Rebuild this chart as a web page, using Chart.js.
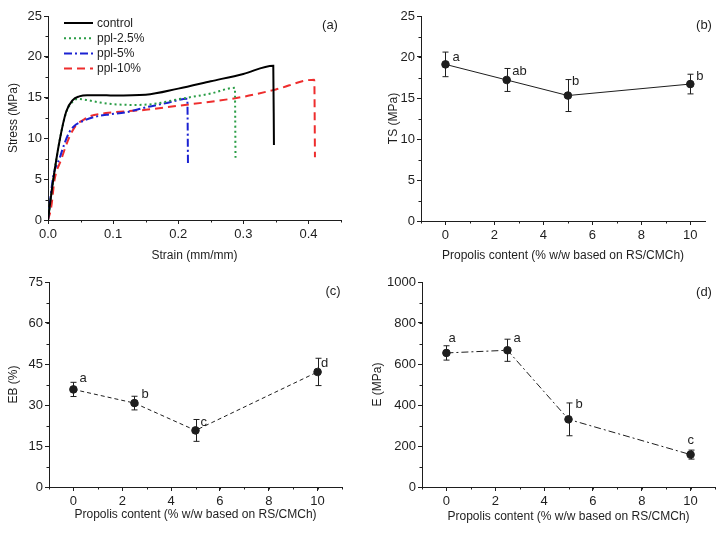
<!DOCTYPE html>
<html>
<head>
<meta charset="utf-8">
<script src="https://cdn.jsdelivr.net/npm/chart.js@4.4.1/dist/chart.umd.min.js"></script>
<style>
    body { margin: 0; background: #fff; }
    #wrap { position: relative; width: 725px; height: 534px; }
    canvas { position: absolute; }
</style>
</head>
<body>
<div id="wrap">
    <canvas id="chart-a" width="362" height="267" style="left:0;top:0"></canvas>
    <canvas id="chart-b" width="363" height="267" style="left:362px;top:0"></canvas>
    <canvas id="chart-c" width="362" height="267" style="left:0;top:267px"></canvas>
    <canvas id="chart-d" width="363" height="267" style="left:362px;top:267px"></canvas>
</div>
<script>
// ===========================================
// DATA
// ===========================================
// (a) stress-strain curves
const strainControl = [0, 0.008, 0.018, 0.028, 0.038, 0.048, 0.06, 0.08, 0.1, 0.15, 0.2, 0.25, 0.3, 0.346, 0.347];
const stressControl = [0, 4.9, 9.8, 13.3, 14.7, 15.15, 15.3, 15.3, 15.25, 15.35, 16.1, 17.0, 17.9, 18.9, 9.2];
const strainPpl25 = [0, 0.008, 0.018, 0.028, 0.038, 0.046, 0.06, 0.08, 0.1, 0.13, 0.16, 0.2, 0.25, 0.287, 0.288];
const stressPpl25 = [0, 4.9, 9.8, 13.2, 14.5, 14.85, 14.7, 14.4, 14.2, 14.1, 14.2, 14.8, 15.5, 16.2, 7.5];
const strainPpl5 = [0, 0.008, 0.018, 0.025, 0.033, 0.04, 0.05, 0.07, 0.09, 0.12, 0.15, 0.18, 0.214, 0.215];
const stressPpl5 = [0, 5.3, 7.6, 9.3, 10.8, 11.5, 12.0, 12.6, 12.9, 13.2, 13.8, 14.3, 14.85, 6.7];
const strainPpl10 = [0, 0.005, 0.01, 0.02, 0.033, 0.043, 0.055, 0.064, 0.089, 0.15, 0.2, 0.25, 0.3, 0.35, 0.409, 0.41];
const stressPpl10 = [0, 1.6, 4.9, 7.35, 10.2, 11.6, 12.3, 12.7, 13.1, 13.5, 14.0, 14.5, 15.1, 16.0, 17.2, 7.7];
const strainTicks = [0, 0.1, 0.2, 0.3, 0.4];
const stressTicks = [0, 5, 10, 15, 20, 25];

// (b)-(d) vs propolis content
const propolis = [0, 2.5, 5, 10];
const contentTicks = [0, 2, 4, 6, 8, 10];

const tsMean = [19.1, 17.2, 15.3, 16.7];
const tsErr = [1.5, 1.4, 1.95, 1.2];
const tsGroups = ['a', 'ab', 'b', 'b'];
const tsTicks = [0, 5, 10, 15, 20, 25];

const ebMean = [35.7, 30.7, 20.7, 42.1];
const ebErr = [2.6, 2.5, 4.0, 5.0];
const ebGroups = ['a', 'b', 'c', 'd'];
const ebTicks = [0, 15, 30, 45, 60, 75];

const eMean = [654, 667, 330, 158];
const eErr = [35, 54, 80, 22];
const eGroups = ['a', 'a', 'b', 'c'];
const eTicks = [0, 200, 400, 600, 800, 1000];

// ===========================================
// SETUP
// ===========================================
const INK = '#1e1e1e';
const XTITLE = 'Propolis content (% w/w based on RS/CMCh)';
Chart.defaults.font.family = '"Liberation Sans", Arial, sans-serif';
Chart.defaults.color = INK;

function toPoints(xs, ys) {
    return xs.map((x, i) => ({ x: x, y: ys[i] }));
}

// short minor ticks between the majors
const minorTicks = {
    id: 'minorTicks',
    afterDraw(chart, args, opts) {
        const ctx = chart.ctx;
        ctx.save();
        ctx.strokeStyle = INK;
        ctx.lineWidth = 1;
        ['x', 'y'].forEach(id => {
            const step = opts[id];
            if (!step) return;
            const s = chart.scales[id];
            const n = Math.floor((s.max - s.min) / step + 1e-6);
            const first = Math.ceil(s.min / step - 1e-6);
            for (let i = first; i <= first + n; i++) {
                const v = i * step;
                if (v > s.max + 1e-9) break;
                const p = Math.round(s.getPixelForValue(v)) + 0.5;
                ctx.beginPath();
                if (id === 'x') {
                    ctx.moveTo(p, s.top);
                    ctx.lineTo(p, s.top + 2.5);
                } else {
                    ctx.moveTo(s.right, p);
                    ctx.lineTo(s.right - 2.5, p);
                }
                ctx.stroke();
            }
        });
        ctx.restore();
    }
};

// vertical error bars with caps
const errorBars = {
    id: 'errorBars',
    beforeDatasetsDraw(chart) {
        const ctx = chart.ctx;
        const xs = chart.scales.x, ys = chart.scales.y;
        ctx.save();
        ctx.strokeStyle = INK;
        ctx.lineWidth = 1;
        chart.data.datasets.forEach(ds => {
            if (!ds.errors) return;
            ds.data.forEach((p, i) => {
                const px = Math.round(xs.getPixelForValue(p.x)) + 0.5;
                const top = ys.getPixelForValue(p.y + ds.errors[i]);
                const bot = ys.getPixelForValue(p.y - ds.errors[i]);
                ctx.beginPath();
                ctx.moveTo(px, top); ctx.lineTo(px, bot);
                ctx.moveTo(px - 3, top); ctx.lineTo(px + 3, top);
                ctx.moveTo(px - 3, bot); ctx.lineTo(px + 3, bot);
                ctx.stroke();
            });
        });
        ctx.restore();
    }
};

// significance letters next to the points
const groupLetters = {
    id: 'groupLetters',
    afterDatasetsDraw(chart, args, opts) {
        const ctx = chart.ctx;
        const xs = chart.scales.x, ys = chart.scales.y;
        ctx.save();
        ctx.fillStyle = INK;
        ctx.font = '13px "Liberation Sans", Arial, sans-serif';
        ctx.textAlign = 'left';
        ctx.textBaseline = 'middle';
        chart.data.datasets.forEach(ds => {
            if (!ds.groups) return;
            ds.data.forEach((p, i) => {
                const off = (opts.offsets && opts.offsets[i]) || [6, -9];
                ctx.fillText(ds.groups[i], xs.getPixelForValue(p.x) + off[0], ys.getPixelForValue(p.y) + off[1]);
            });
        });
        ctx.restore();
    }
};

// panel tag, e.g. "(a)"
const panelTag = {
    id: 'panelTag',
    afterDraw(chart, args, opts) {
        if (!opts.text) return;
        const ctx = chart.ctx;
        ctx.save();
        ctx.fillStyle = INK;
        ctx.font = '13px "Liberation Sans", Arial, sans-serif';
        ctx.textAlign = 'center';
        ctx.textBaseline = 'middle';
        ctx.fillText(opts.text, opts.x, opts.y);
        ctx.restore();
    }
};

// legend drawn inside the plot, Origin style
const lineLegend = {
    id: 'lineLegend',
    afterDraw(chart, args, opts) {
        if (!opts.display) return;
        const ctx = chart.ctx;
        ctx.save();
        ctx.font = '12px "Liberation Sans", Arial, sans-serif';
        ctx.textBaseline = 'middle';
        ctx.textAlign = 'left';
        chart.data.datasets.forEach((ds, i) => {
            const y = opts.y + i * opts.rowHeight;
            ctx.strokeStyle = ds.borderColor;
            ctx.lineWidth = ds.borderWidth;
            ctx.setLineDash(ds.borderDash || []);
            ctx.beginPath();
            ctx.moveTo(opts.x, y);
            ctx.lineTo(opts.x + opts.lineLength, y);
            ctx.stroke();
            ctx.setLineDash([]);
            ctx.fillStyle = INK;
            ctx.fillText(ds.label, opts.x + opts.lineLength + 4, y + 0.5);
        });
        ctx.restore();
    }
};

function linearAxis(o) {
    return {
        type: 'linear',
        min: o.min,
        max: o.max,
        afterBuildTicks: s => { s.ticks = o.ticks.map(v => ({ value: v })); },
        afterFit: s => {
            if (o.width) s.width = o.width;
            if (o.height) s.height = o.height;
        },
        ticks: {
            font: { size: 13 },
            color: INK,
            padding: o.tickPad,
            callback: o.format || (v => String(v))
        },
        grid: {
            drawOnChartArea: false,
            drawTicks: true,
            tickLength: 4,
            tickColor: INK
        },
        border: { display: true, color: INK, width: 1 },
        title: {
            display: true,
            text: o.title,
            font: { size: 12 },
            color: INK,
            padding: o.titlePad
        }
    };
}

function baseOptions(scales, padding, plugins) {
    return {
        responsive: false,
        animation: false,
        devicePixelRatio: 1,
        events: [],
        layout: { padding: padding },
        scales: scales,
        plugins: Object.assign({
            legend: { display: false },
            tooltip: { enabled: false }
        }, plugins)
    };
}

// ===========================================
// (a) STRESS-STRAIN
// ===========================================
new Chart(document.getElementById('chart-a'), {
    type: 'line',
    data: {
        datasets: [
            { label: 'control', data: toPoints(strainControl, stressControl), borderColor: '#000000', borderWidth: 2, borderDash: [] },
            { label: 'ppl-2.5%', data: toPoints(strainPpl25, stressPpl25), borderColor: '#2a9d46', borderWidth: 2, borderDash: [2, 3] },
            { label: 'ppl-5%', data: toPoints(strainPpl5, stressPpl5), borderColor: '#1b22d2', borderWidth: 2, borderDash: [8, 3, 2, 3] },
            { label: 'ppl-10%', data: toPoints(strainPpl10, stressPpl10), borderColor: '#ee2d2d', borderWidth: 2, borderDash: [8, 5] }
        ].map(ds => Object.assign(ds, { pointRadius: 0, fill: false, cubicInterpolationMode: 'monotone' }))
    },
    options: baseOptions({
        x: linearAxis({ min: 0, max: 0.45, ticks: strainTicks, format: v => v.toFixed(1), title: 'Strain (mm/mm)', height: 47, tickPad: 3, titlePad: { top: 4, bottom: 4 } }),
        y: linearAxis({ min: 0, max: 25, ticks: stressTicks, title: 'Stress (MPa)', width: 48, tickPad: 2, titlePad: { top: 6, bottom: 4 } })
    }, { top: 16, right: 21, bottom: 0, left: 0 }, {
        minorTicks: { x: 0.05, y: 2.5 },
        panelTag: { text: '(a)', x: 330, y: 25 },
        lineLegend: { display: true, x: 64, y: 23, rowHeight: 15.2, lineLength: 29 }
    }),
    plugins: [minorTicks, panelTag, lineLegend]
});

// ===========================================
// (b)-(d) PROPERTIES VS PROPOLIS CONTENT
// ===========================================
function propertyChart(id, o) {
    new Chart(document.getElementById(id), {
        type: 'line',
        data: {
            datasets: [{
                label: o.title,
                data: toPoints(propolis, o.mean),
                errors: o.err,
                groups: o.groups,
                borderColor: INK,
                borderWidth: 1,
                borderDash: o.dash,
                tension: 0,
                fill: false,
                pointRadius: 3.8,
                pointBackgroundColor: INK,
                pointBorderColor: INK,
                pointBorderWidth: 1
            }]
        },
        options: baseOptions({
            x: linearAxis({ min: -1, max: o.xMax, ticks: contentTicks, title: XTITLE, height: o.xHeight, tickPad: 3, titlePad: { top: 4, bottom: o.xTitleBottom } }),
            y: linearAxis({ min: 0, max: o.yMax, ticks: o.yTicks, title: o.title, width: o.yWidth, tickPad: 2, titlePad: { top: o.yTitleTop, bottom: 4 } })
        }, o.padding, {
            minorTicks: { x: 1, y: o.yMinor },
            panelTag: o.tag,
            groupLetters: { offsets: o.letterOffsets }
        }),
        plugins: [minorTicks, errorBars, groupLetters, panelTag]
    });
}

propertyChart('chart-b', {
    mean: tsMean, err: tsErr, groups: tsGroups, dash: [],
    title: 'TS (MPa)', yMax: 25, yTicks: tsTicks, yMinor: 2.5, xMax: 10.6,
    yWidth: 59, xHeight: 46, yTitleTop: 24, xTitleBottom: 4,
    padding: { top: 16, right: 20, bottom: 0, left: 0 },
    tag: { text: '(b)', x: 342, y: 25 },
    letterOffsets: [[7, -7], [5.5, -9], [4, -14], [6, -8]]
});

propertyChart('chart-c', {
    mean: ebMean, err: ebErr, groups: ebGroups, dash: [4, 3],
    title: 'EB (%)', yMax: 75, yTicks: ebTicks, yMinor: 7.5, xMax: 11,
    yWidth: 49, xHeight: 47, yTitleTop: 6, xTitleBottom: 12,
    padding: { top: 15, right: 20, bottom: 0, left: 0 },
    tag: { text: '(c)', x: 333, y: 24 },
    letterOffsets: [[6, -11], [7, -8.5], [5, -8], [3.5, -9]]
});

propertyChart('chart-d', {
    mean: eMean, err: eErr, groups: eGroups, dash: [7, 3, 2, 3],
    title: 'E (MPa)', yMax: 1000, yTicks: eTicks, yMinor: 100, xMax: 11,
    yWidth: 60, xHeight: 47, yTitleTop: 8, xTitleBottom: 10,
    padding: { top: 15, right: 10, bottom: 0, left: 0 },
    tag: { text: '(d)', x: 342, y: 25 },
    letterOffsets: [[2, -15], [6, -12], [7, -15], [-3, -14]]
});
</script>
</body>
</html>
